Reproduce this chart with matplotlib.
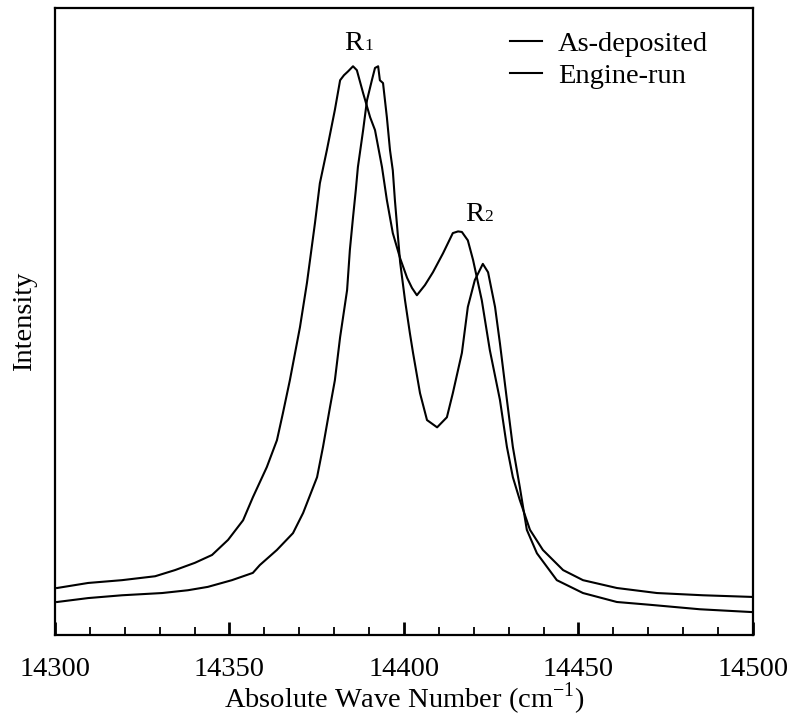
import numpy as np
import matplotlib.pyplot as plt
from matplotlib.ticker import MultipleLocator

plt.rcParams['font.family'] = ['Liberation Serif', 'DejaVu Serif']
plt.rcParams['mathtext.fontset'] = 'custom'
plt.rcParams['mathtext.rm'] = 'Liberation Serif'

# --- data (wave number in cm^-1, intensity in a.u.) ---
wn_dep = [14300.6, 14309.5, 14319.2, 14328.7, 14334.4, 14340.1, 14345.0, 14349.6,
          14353.9, 14356.7, 14360.7, 14363.6, 14365.3, 14367.3, 14370.2, 14372.2,
          14374.5, 14375.9, 14377.9, 14380.2, 14381.7, 14382.8, 14384.0, 14385.4,
          14386.5, 14388.3, 14390.3, 14391.7, 14393.7, 14395.1, 14396.8, 14398.9,
          14400.9, 14402.3, 14403.7, 14406.0, 14408.3, 14411.2, 14414.0, 14415.5,
          14416.6, 14418.3, 14419.8, 14422.3, 14424.6, 14427.5, 14429.5, 14431.2,
          14433.2, 14436.1, 14439.8, 14445.6, 14451.3, 14461.0, 14472.5, 14485.7,
          14500.0]
int_dep = [8.4, 9.3, 9.8, 10.5, 11.6, 12.9, 14.3, 17.0,
           20.5, 24.6, 30.0, 34.8, 39.6, 45.5, 55.0, 62.9,
           73.6, 80.7, 86.6, 93.8, 99.1, 100.0, 100.7, 101.6,
           100.9, 96.8, 92.5, 90.2, 83.6, 77.7, 71.8, 67.3,
           63.8, 62.0, 60.7, 62.5, 64.8, 68.2, 71.8, 72.1,
           72.0, 70.5, 67.0, 59.8, 50.9, 42.0, 33.6, 28.2,
           24.1, 18.8, 15.2, 11.6, 9.8, 8.4, 7.5, 7.1,
           6.8]

wn_eng = [14300.6, 14309.5, 14319.2, 14330.7, 14338.1, 14343.8, 14350.7, 14356.7,
          14358.7, 14363.6, 14368.2, 14371.1, 14375.1, 14376.8, 14378.8, 14380.2,
          14381.7, 14383.7, 14384.5, 14385.4, 14386.2, 14386.8, 14388.3, 14389.4,
          14390.8, 14391.7, 14392.6, 14393.1, 14394.0, 14395.1, 14396.0, 14396.8,
          14397.4, 14398.9, 14400.3, 14401.7, 14402.6, 14404.6, 14406.6, 14409.5,
          14412.3, 14414.0, 14416.6, 14418.3, 14420.3, 14422.6, 14424.1, 14426.1,
          14427.5, 14429.5, 14431.2, 14433.2, 14435.2, 14438.1, 14443.8, 14451.3,
          14461.0, 14470.5, 14484.8, 14499.7]
int_eng = [5.9, 6.6, 7.1, 7.5, 8.0, 8.6, 9.8, 11.1,
           12.5, 15.2, 18.2, 21.8, 28.2, 33.6, 40.7, 45.5,
           53.2, 61.6, 68.8, 74.6, 79.5, 83.6, 90.2, 95.5,
           99.1, 101.3, 101.6, 99.1, 98.6, 92.5, 86.6, 83.0,
           77.7, 66.6, 59.8, 53.9, 50.4, 43.2, 38.4, 37.1,
           38.9, 43.2, 50.4, 58.6, 63.4, 66.3, 64.8, 58.6,
           52.1, 42.0, 33.6, 26.4, 18.8, 14.6, 9.8, 7.5,
           5.9, 5.4, 4.6, 4.1]

fs = 20.5

fig = plt.figure(figsize=(7.9, 7.19), dpi=100)
ax = fig.add_axes([0.0696, 0.1168, 0.8835, 0.872])

ax.plot(wn_dep, int_dep, color='black', linewidth=1.5, label='As-deposited')
ax.plot(wn_eng, int_eng, color='black', linewidth=1.5, label='Engine-run')

ax.set_xlim(14300, 14500)
ax.set_ylim(0, 112)

ax.xaxis.set_major_locator(MultipleLocator(50))
ax.xaxis.set_minor_locator(MultipleLocator(10))
ax.tick_params(axis='x', which='major', direction='in', length=9.5, width=2,
               labelsize=fs, pad=16)
ax.tick_params(axis='x', which='minor', direction='in', length=6, width=1.3)
ax.set_yticks([])
for s in ax.spines.values():
    s.set_linewidth(1.6)

ax.set_xlabel(r'Absolute Wave Number (cm$^{\mathregular{-1}}$)', fontsize=fs, labelpad=-1.5)
ax.set_ylabel('Intensity', fontsize=fs, labelpad=13)

# peak labels
ax.text(14383.0, 104.5, 'R', fontsize=fs, ha='left', va='baseline')
ax.text(14388.6, 104.5, '1', fontsize=12.5, ha='left', va='baseline')
ax.text(14417.4, 73.9, 'R', fontsize=fs, ha='left', va='baseline')
ax.text(14423.0, 73.9, '2', fontsize=12.5, ha='left', va='baseline')

ax.legend(loc='upper right', bbox_to_anchor=(0.936, 0.963), frameon=False,
          fontsize=fs, handlelength=1.15, handletextpad=0.55,
          labelspacing=0.2, borderpad=0, borderaxespad=0)

fig.savefig('out.png', dpi=100)
